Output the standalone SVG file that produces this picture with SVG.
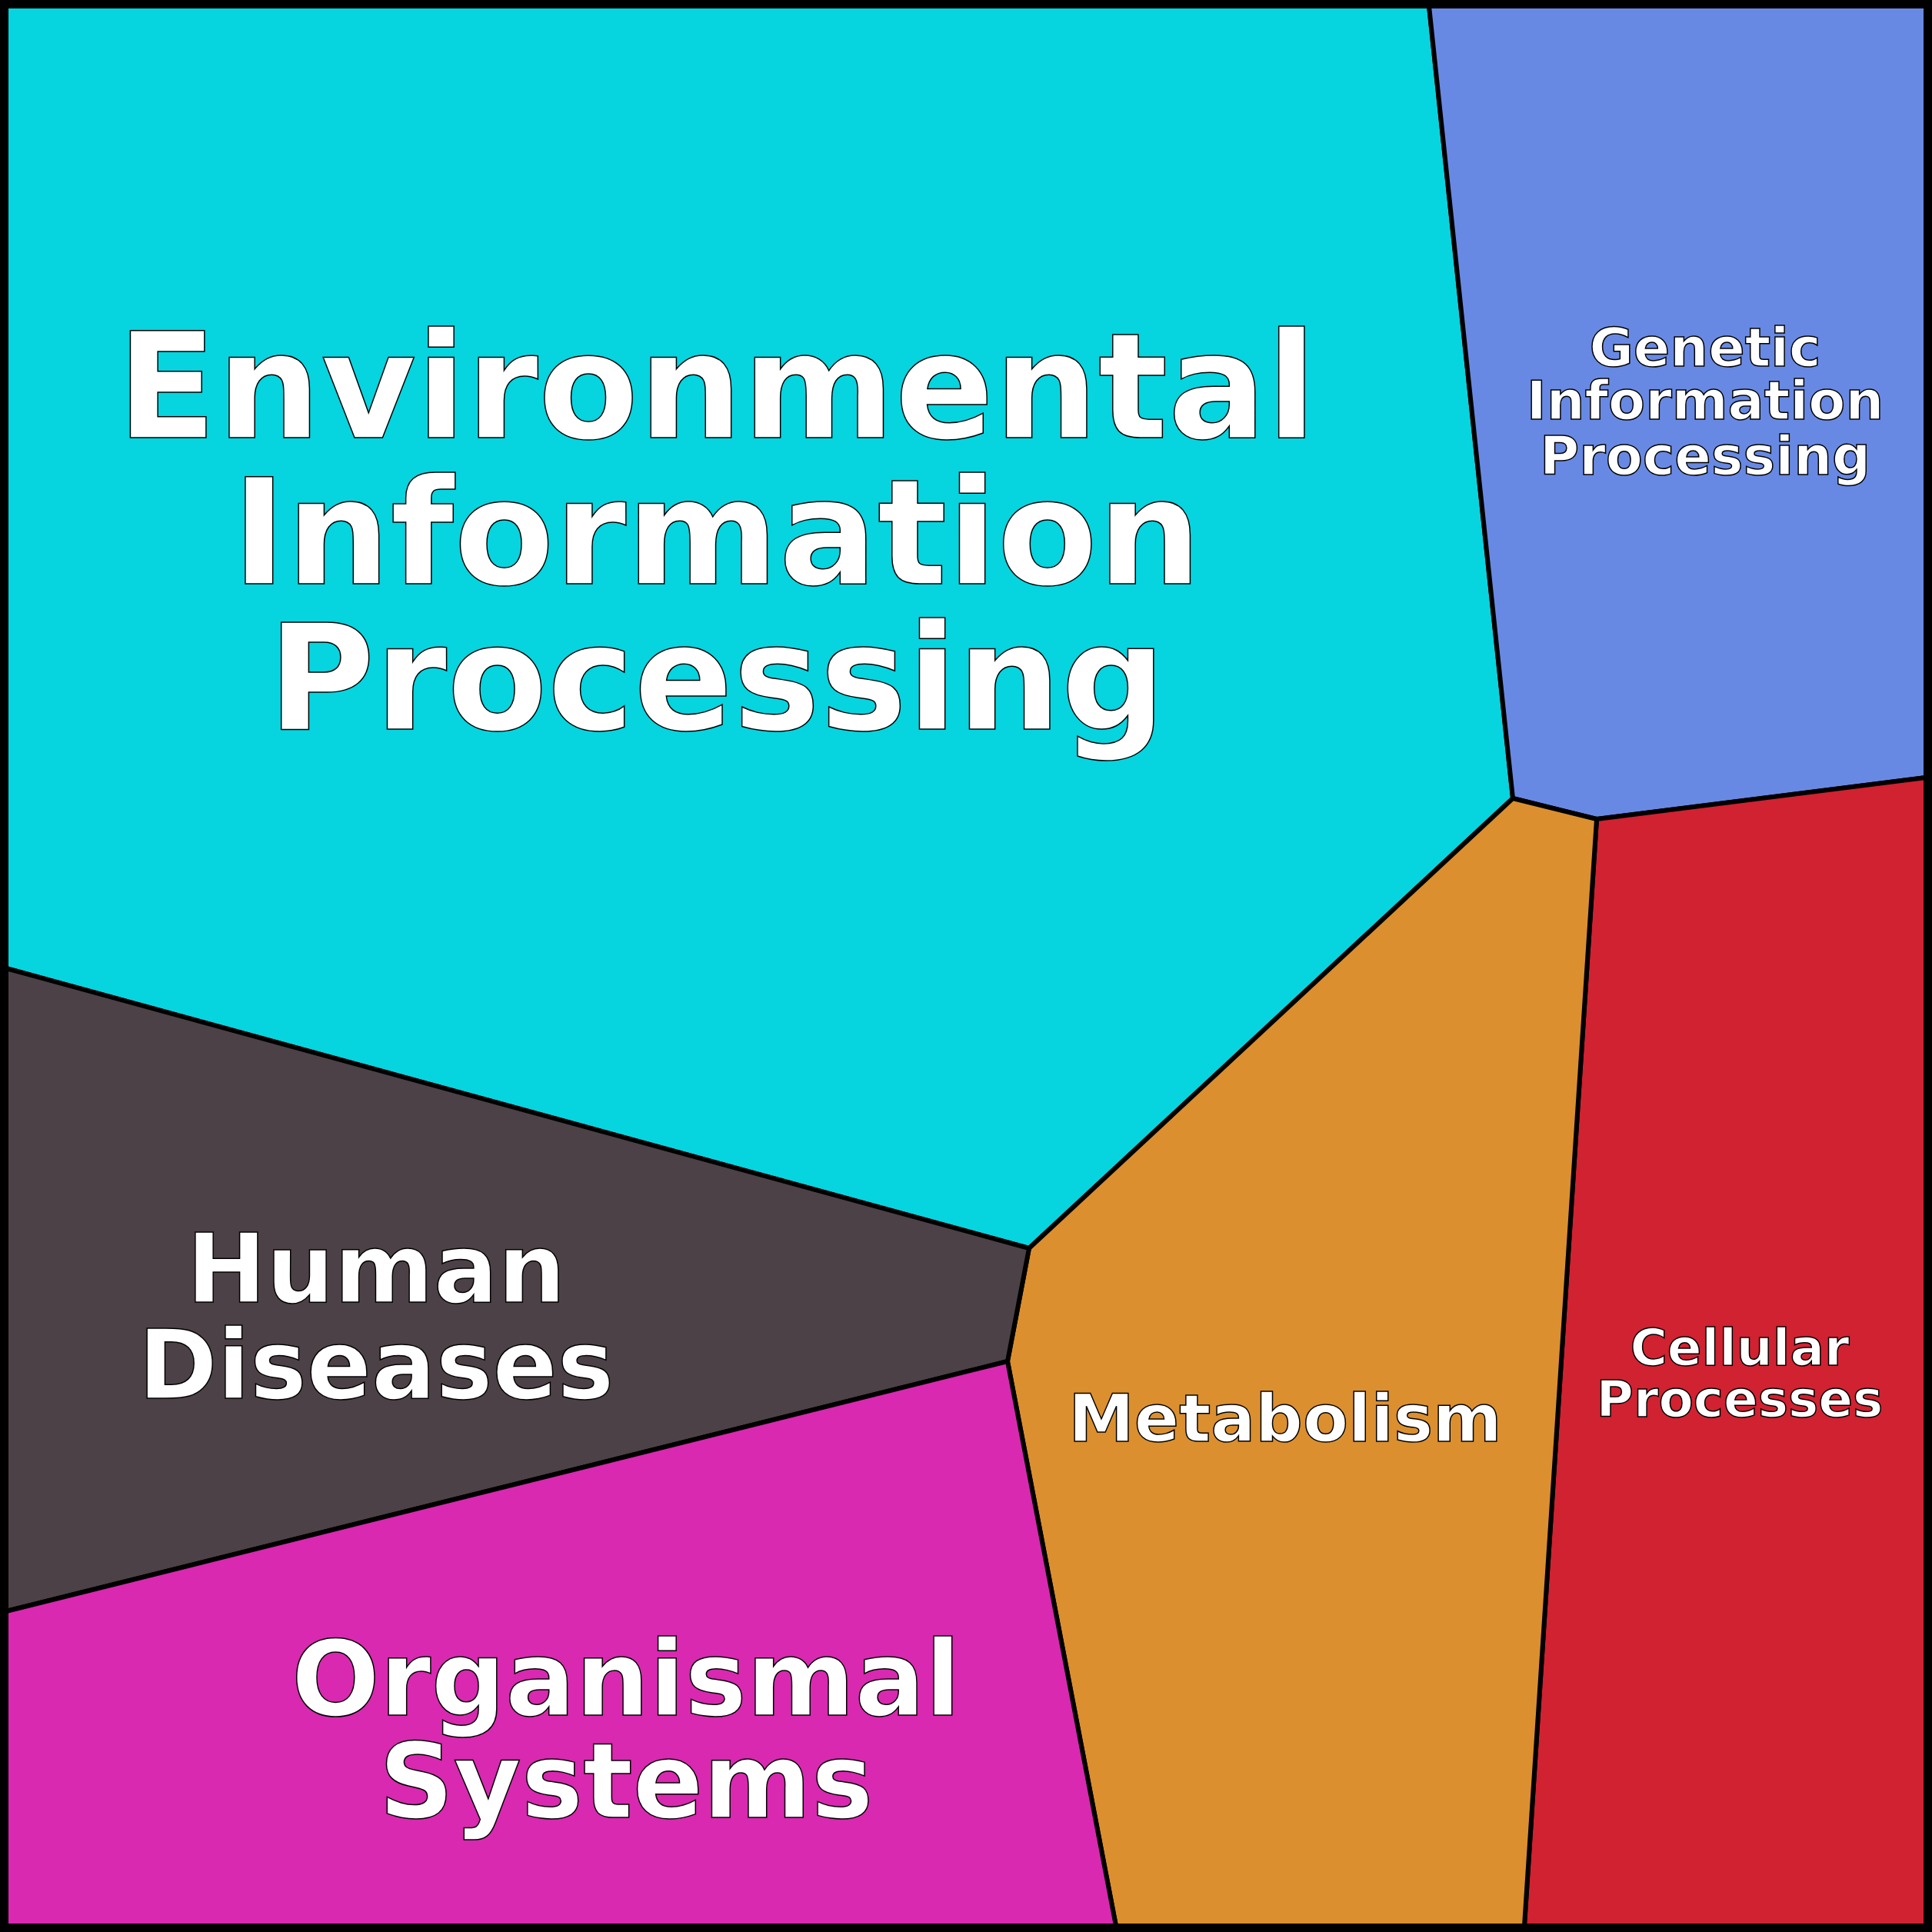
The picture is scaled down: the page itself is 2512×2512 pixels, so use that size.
<svg xmlns="http://www.w3.org/2000/svg" width="2512" height="2512" viewBox="0 0 2512 2512">
<style>
.c{stroke:#000;stroke-width:6;stroke-linejoin:round}
.t{font-family:"DejaVu Sans",sans-serif;font-weight:bold;fill:#fff;stroke:#000;stroke-width:1.5;text-anchor:middle}
</style>
<g id="env"><polygon class="c" fill="#06D4DF" points="8,8 1858,8 1967,1038 1338,1623 8,1259"/>
<text class="t" font-size="190"><tspan x="932" y="569">Environmental</tspan><tspan x="932" y="759">Information</tspan><tspan x="932" y="948">Processing</tspan></text></g>
<g id="gen"><polygon class="c" fill="#6889E3" points="1858,8 2504,8 2504,1011 2076,1065 1967,1038"/>
<text class="t" font-size="70"><tspan x="2217" y="476">Genetic</tspan><tspan x="2217" y="545">Information</tspan><tspan x="2217" y="617">Processing</tspan></text></g>
<g id="cell"><polygon class="c" fill="#D02231" points="2076,1065 2504,1011 2504,2504 1982,2504"/>
<text class="t" font-size="66"><tspan x="2262" y="1775">Cellular</tspan><tspan x="2262" y="1842">Processes</tspan></text></g>
<g id="met"><polygon class="c" fill="#DB8F2F" points="1967,1038 2076,1065 1982,2504 1451,2504 1310,1770 1338,1623"/>
<text class="t" font-size="86" x="1671" y="1874">Metabolism</text></g>
<g id="hum"><polygon class="c" fill="#4B4146" points="8,1259 1338,1623 1310,1770 8,2095"/>
<text class="t" font-size="124"><tspan x="489" y="1693">Human</tspan><tspan x="489" y="1818">Diseases</tspan></text></g>
<g id="org"><polygon class="c" fill="#D829B0" points="8,2095 1310,1770 1451,2504 8,2504"/>
<text class="t" font-size="135"><tspan x="814" y="2230">Organismal</tspan><tspan x="814" y="2363">Systems</tspan></text></g>
<g id="connectors"></g>
<rect x="5" y="5" width="2502" height="2502" fill="none" stroke="#000" stroke-width="10"/>
</svg>
